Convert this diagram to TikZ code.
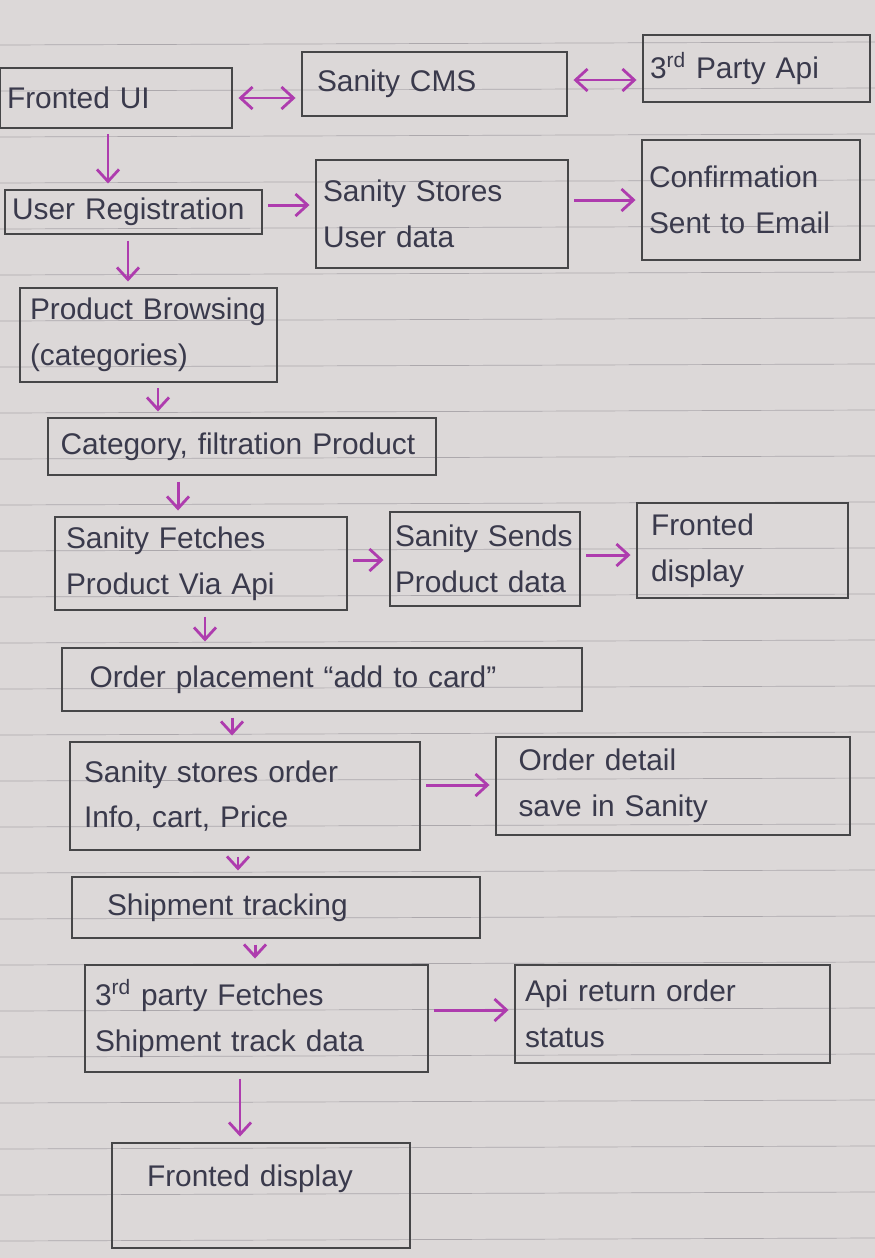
\documentclass[tikz,border=0pt]{standalone}
\usepackage{fontspec}
\setmainfont{Liberation Sans}
\usetikzlibrary{arrows.meta}
\definecolor{paper}{HTML}{DCD8D8}
\definecolor{ruling}{HTML}{ACA8AC}
\definecolor{pencil}{HTML}{464648}
\definecolor{ink}{HTML}{3A3A4C}
\definecolor{marker}{HTML}{AE3CAE}
\tikzset{barb/.tip={Straight Barb[length=2.4mm,width=4.4mm,line width=1.6pt]}}

\begin{document}
\begin{tikzpicture}[
            x=0.02cm, y=-0.02cm,
            stepbox/.style={
                draw=pencil,
                line width=1.4pt,
                inner xsep=0.14cm,
                inner ysep=0pt,
                align=left,
                text=ink,
                font=\fontsize{17}{26}\selectfont
            },
            flow/.style={
                draw=marker,
                line width=1.7pt,
                -barb,
                shorten >=3pt,
                shorten <=3pt
            },
            dflow/.style={flow, barb-barb}
        ]
        \fill[paper] (0,0) rectangle (875,1258);
        \useasboundingbox (0,0) rectangle (875,1258);
        \foreach \ln in {0,...,26} {
            \draw[ruling, thin] (0, 45+\ln*46) -- (875, 42+\ln*46);
        }
        \node[stepbox, text width=4.36cm, minimum height=1.2cm] (fui) at (116,98) {Fronted UI};
        \node[stepbox, inner xsep=0.3cm, text width=4.7cm, minimum height=1.28cm] (cms) at (434.5,84) {Sanity CMS};
        \node[stepbox, text width=4.26cm, minimum height=1.34cm] (api) at (756.5,68.5) {3\textsuperscript{rd} Party Api};
        \node[stepbox, text width=4.86cm, minimum height=0.88cm] (ureg) at (133.5,212) {User Registration};
        \node[stepbox, text width=4.76cm, minimum height=2.16cm] (sstore) at (442,214) {Sanity Stores\\User data};
        \node[stepbox, text width=4.08cm, minimum height=2.4cm] (confirm) at (751,200) {Confirmation\\Sent to Email};
        \node[stepbox, inner xsep=0.2cm, text width=4.74cm, minimum height=1.88cm] (prod) at (148.5,335) {Product Browsing\\(categories)};
        \node[stepbox, inner xsep=0.25cm, text width=7.26cm, minimum height=1.14cm] (cat) at (242,446.5) {Category, filtration Product};
        \node[stepbox, inner xsep=0.22cm, text width=5.4cm, minimum height=1.86cm] (fetch) at (201,563.5) {Sanity Fetches\\Product Via Api};
        \node[stepbox, inner xsep=0.1cm, text width=3.6cm, minimum height=1.88cm] (sends) at (485,559) {Sanity Sends\\Product data};
        \node[stepbox, inner xsep=0.28cm, text width=3.66cm, minimum height=1.9cm] (fdisp) at (742.5,550.5) {Fronted\\display};
        \node[stepbox, inner xsep=0.55cm, text width=9.3cm, minimum height=1.26cm] (order) at (322,679.5) {Order placement ``add to card''};
        \node[stepbox, inner xsep=0.28cm, text width=6.44cm, minimum height=2.16cm] (stores) at (245,796) {Sanity stores order\\Info, cart, Price};
        \node[stepbox, inner xsep=0.45cm, text width=6.18cm, minimum height=1.96cm] (detail) at (673,786) {Order detail\\save in Sanity};
        \node[stepbox, inner xsep=0.7cm, text width=6.76cm, minimum height=1.22cm] (ship) at (276,907.5) {Shipment tracking};
        \node[stepbox, inner xsep=0.2cm, text width=6.46cm, minimum height=2.14cm] (third) at (256.5,1018.5) {3\textsuperscript{rd} party Fetches\\Shipment track data};
        \node[stepbox, inner xsep=0.2cm, text width=5.9cm, minimum height=1.96cm] (apiret) at (672.5,1014) {Api return order\\status};
        \node[stepbox, inner xsep=0.7cm, text width=4.56cm, text depth=0.8cm, minimum height=2.1cm] (fend) at (261,1195.5) {Fronted display};
        \draw[dflow] (fui.east) -- (fui.east -| cms.west);
        \draw[dflow] ([yshift=0.08cm]cms.east) -- ([yshift=0.08cm]cms.east -| api.west);
        \draw[flow] ([xshift=-0.16cm]fui.south) -- ([xshift=-0.16cm]fui.south |- ureg.north);
        \draw[flow] ([yshift=0.14cm]ureg.east) -- ([yshift=0.14cm]ureg.east -| sstore.west);
        \draw[flow] ([yshift=0.28cm]sstore.east) -- ([yshift=0.28cm]sstore.east -| confirm.west);
        \draw[flow] ([xshift=-0.11cm]ureg.south) -- ([xshift=-0.11cm]ureg.south |- prod.north);
        \draw[flow] ([xshift=0.19cm]prod.south) -- ([xshift=0.19cm]prod.south |- cat.north);
        \draw[flow] ([xshift=-1.28cm]cat.south) -- ([xshift=-1.28cm]cat.south |- fetch.north);
        \draw[flow] ([yshift=0.07cm]fetch.east) -- ([yshift=0.07cm]fetch.east -| sends.west);
        \draw[flow] ([yshift=0.08cm]sends.east) -- ([yshift=0.08cm]sends.east -| fdisp.west);
        \draw[flow] ([xshift=0.08cm]fetch.south) -- ([xshift=0.08cm]fetch.south |- order.north);
        \draw[flow] ([xshift=-1.8cm]order.south) -- ([xshift=-1.8cm]order.south |- stores.north);
        \draw[flow] ([yshift=0.22cm]stores.east) -- ([yshift=0.22cm]stores.east -| detail.west);
        \draw[flow] ([xshift=-0.14cm]stores.south) -- ([xshift=-0.14cm]stores.south |- ship.north);
        \draw[flow] ([xshift=-0.42cm]ship.south) -- ([xshift=-0.42cm]ship.south |- third.north);
        \draw[flow] ([yshift=0.17cm]third.east) -- ([yshift=0.17cm]third.east -| apiret.west);
        \draw[flow] ([xshift=-0.33cm]third.south) -- ([xshift=-0.33cm]third.south |- fend.north);
        \end{tikzpicture}
\end{document}
